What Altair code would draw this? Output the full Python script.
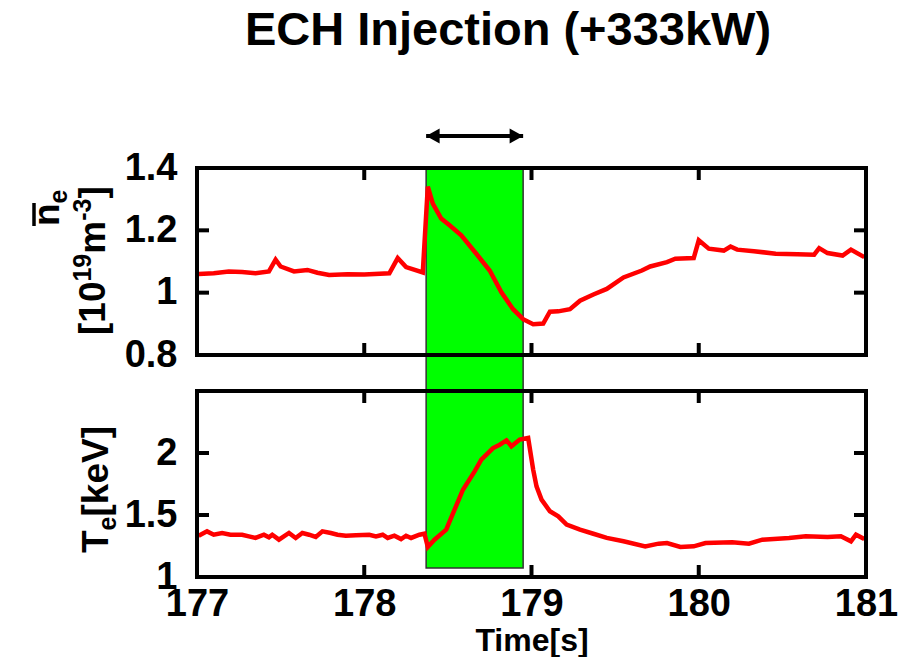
import altair as alt
import pandas as pd

FONT = "Liberation Sans"

# ---------------- data ----------------
time_ne = [177.01, 177.10, 177.19, 177.27, 177.35, 177.43, 177.47, 177.50, 177.58, 177.66,
           177.72, 177.79, 177.90, 178.00, 178.15, 178.20, 178.25, 178.35, 178.38, 178.41,
           178.46, 178.51, 178.58, 178.67, 178.75, 178.82, 178.89, 178.95, 179.01, 179.07,
           179.11, 179.16, 179.23, 179.29, 179.37, 179.45, 179.55, 179.66, 179.71, 179.81,
           179.86, 179.97, 180.00, 180.06, 180.15, 180.19, 180.23, 180.33, 180.46, 180.59,
           180.69, 180.72, 180.77, 180.86, 180.91, 180.99]
ne = [1.060, 1.062, 1.068, 1.066, 1.062, 1.068, 1.106, 1.084, 1.068, 1.073,
      1.064, 1.057, 1.059, 1.058, 1.062, 1.111, 1.082, 1.065, 1.340, 1.286,
      1.238, 1.216, 1.184, 1.125, 1.071, 1.001, 0.947, 0.915, 0.899, 0.901,
      0.939, 0.940, 0.947, 0.974, 0.994, 1.012, 1.049, 1.071, 1.084, 1.098,
      1.109, 1.111, 1.168, 1.141, 1.135, 1.148, 1.138, 1.133, 1.125, 1.123,
      1.122, 1.143, 1.127, 1.119, 1.138, 1.114]

time_te = [177.01, 177.06, 177.10, 177.15, 177.20, 177.27, 177.31, 177.35, 177.40, 177.43,
           177.45, 177.49, 177.55, 177.59, 177.63, 177.67, 177.71, 177.75, 177.80, 177.84,
           177.89, 177.95, 178.03, 178.07, 178.11, 178.14, 178.18, 178.22, 178.25, 178.28,
           178.33, 178.36, 178.38, 178.42, 178.49, 178.54, 178.59, 178.66, 178.70, 178.77,
           178.81, 178.85, 178.88, 178.93, 178.98, 179.01, 179.03, 179.06, 179.11, 179.16,
           179.21, 179.29, 179.37, 179.45, 179.55, 179.68, 179.76, 179.81, 179.89, 179.97,
           180.04, 180.20, 180.30, 180.38, 180.54, 180.64, 180.77, 180.85, 180.91, 180.94,
           180.99]
te = [1.333, 1.368, 1.341, 1.355, 1.341, 1.341, 1.328, 1.315, 1.341, 1.320,
      1.341, 1.301, 1.355, 1.315, 1.355, 1.341, 1.323, 1.368, 1.355, 1.341,
      1.333, 1.336, 1.341, 1.328, 1.341, 1.315, 1.333, 1.306, 1.333, 1.315,
      1.341, 1.349, 1.242, 1.301, 1.382, 1.543, 1.704, 1.852, 1.946, 2.040,
      2.067, 2.102, 2.054, 2.108, 2.121, 1.866, 1.731, 1.624, 1.530, 1.489,
      1.422, 1.382, 1.349, 1.315, 1.288, 1.247, 1.269, 1.274, 1.242, 1.247,
      1.274, 1.280, 1.269, 1.301, 1.315, 1.328, 1.323, 1.328, 1.288, 1.341,
      1.306]

ech_start = [178.37]
ech_end = [178.95]
ech_te_bottom = [1.073]

x_ticks = [177, 178, 179, 180, 181]
ne_ticks = [0.8, 1.0, 1.2, 1.4]
te_ticks = [1.0, 1.5, 2.0]

title_text = "ECH Injection (+333kW)"
x_title = "Time[s]"

# ---------------- layout ----------------
W = 669
H_TOP = 187
H_BOT = 186
GAP = 36
BOT_Y0 = H_TOP + GAP
H = BOT_Y0 + H_BOT
TICK = 12
FRAME_W = 4

df_ne = pd.DataFrame({"t": time_ne, "v": ne})
df_te = pd.DataFrame({"t": time_te, "v": te})
df_band = pd.DataFrame({"start": ech_start, "end": ech_end, "bottom": ech_te_bottom})
df_xt = pd.DataFrame({"t": x_ticks})
df_net = pd.DataFrame({"v": ne_ticks})
df_tet = pd.DataFrame({"v": te_ticks})
one = pd.DataFrame({"k": [0]})

xscale = alt.Scale(domain=[177, 181], nice=False, zero=False)
ne_scale = alt.Scale(domain=[0.8, 1.4], range=[H_TOP, 0], nice=False, zero=False)
te_scale = alt.Scale(domain=[1.0, 2.5], range=[H, BOT_Y0], nice=False, zero=False)

x_axis = alt.Axis(values=x_ticks, format="d", ticks=False, tickSize=0, domain=False,
                  grid=False, labelPadding=8, labelFontSize=38, labelFlush=False,
                  title=x_title, titleFontSize=32, titleY=73, titleBaseline="alphabetic")


def X(field):
    return alt.X(field, type="quantitative", scale=xscale, axis=x_axis)


AW = {'[': 333, ']': 333, 'm': 889, '-': 333, 'T': 611, 'e': 556, 'k': 556,
      'V': 667, 'n': 611}
for d in "0123456789":
    AW[d] = 556


def tw(s, size):
    return sum(AW.get(c, 556) for c in s) * size / 1000.0


def rotated_label(pieces, x0, y0):
    layers = []
    off = 0.0
    for txt, size, dy in pieces:
        layers.append(
            alt.Chart(one).mark_text(
                text=txt, angle=270, align="left", baseline="alphabetic",
                dx=off, dy=dy, fontSize=size, font=FONT, fontWeight="bold",
                color="black"
            ).encode(x=alt.value(x0), y=alt.value(y0))
        )
        off += tw(txt, size)
    return layers


def panel_ticks_and_frame(y0, h, df_yt, yscale):
    layers = []
    layers.append(alt.Chart(df_yt).mark_rule(color="black", strokeWidth=FRAME_W).encode(
        y=alt.Y("v:Q", scale=yscale, axis=None), x=alt.value(0), x2=alt.value(TICK)))
    layers.append(alt.Chart(df_yt).mark_rule(color="black", strokeWidth=FRAME_W).encode(
        y=alt.Y("v:Q", scale=yscale, axis=None), x=alt.value(W - TICK), x2=alt.value(W)))
    layers.append(alt.Chart(df_xt).mark_rule(color="black", strokeWidth=FRAME_W).encode(
        x=X("t"), y=alt.value(y0), y2=alt.value(y0 + TICK)))
    layers.append(alt.Chart(df_xt).mark_rule(color="black", strokeWidth=FRAME_W).encode(
        x=X("t"), y=alt.value(y0 + h - TICK), y2=alt.value(y0 + h)))
    layers.append(alt.Chart(one).mark_rect(filled=False, stroke="black",
                                           strokeWidth=FRAME_W).encode(
        x=alt.value(0), x2=alt.value(W), y=alt.value(y0), y2=alt.value(y0 + h)))
    return layers


# ---------------- ECH band (spans both panels) ----------------
band = alt.Chart(df_band).mark_rect(color="#00ff00", stroke="#333333",
                                    strokeWidth=1.5).encode(
    x=X("start"), x2="end",
    y=alt.Y("bottom:Q", scale=te_scale, axis=None), y2=alt.value(0))

# ---------------- top panel ----------------
ne_axis = alt.Axis(values=ne_ticks, format="~g", ticks=False, tickSize=0, domain=False,
                   grid=False, labelPadding=20, title=None, labelFontSize=38, orient="left")
line_ne = alt.Chart(df_ne).mark_line(color="#ff0000", strokeWidth=4.5).encode(
    x=X("t"), y=alt.Y("v:Q", scale=ne_scale, axis=ne_axis))

arrow_shaft = alt.Chart(df_band).mark_rule(color="black", strokeWidth=4).encode(
    x=X("start"), x2="end", y=alt.value(-32))
arrow_l = alt.Chart(df_band).mark_point(shape="M0,0L1.8,-1L1.8,1Z", size=225, filled=True,
                                        color="black", opacity=1, strokeWidth=0).encode(
    x=X("start"), y=alt.value(-32))
arrow_r = alt.Chart(df_band).mark_point(shape="M0,0L-1.8,-1L-1.8,1Z", size=225, filled=True,
                                        color="black", opacity=1, strokeWidth=0).encode(
    x=X("end"), y=alt.value(-32))

title_mark = alt.Chart(one).mark_text(text=title_text, fontSize=47, font=FONT,
                                      fontWeight="bold", align="center",
                                      baseline="alphabetic", color="black").encode(
    x=alt.value(311), y=alt.value(-123))

ne_label = rotated_label([("[", 37, 0), ("10", 37, 0), ("19", 25, -14),
                          ("m", 37, 0), ("-3", 25, -14), ("]", 37, 0)], -92, 167)
n_label = rotated_label([("n", 37, 0), ("e", 25, 8)], -138, 58)
overline = alt.Chart(one).mark_rule(color="black", strokeWidth=3.5).encode(
    x=alt.value(-163), x2=alt.value(-163), y=alt.value(58), y2=alt.value(35))

# ---------------- bottom panel ----------------
te_axis = alt.Axis(values=te_ticks, format="~g", ticks=False, tickSize=0, domain=False,
                   grid=False, labelPadding=20, title=None, labelFontSize=38, orient="left")
line_te = alt.Chart(df_te).mark_line(color="#ff0000", strokeWidth=4.5).encode(
    x=X("t"), y=alt.Y("v:Q", scale=te_scale, axis=te_axis))

te_label = rotated_label([("T", 37, 0), ("e", 25, 8), ("[keV]", 37, 0)], -89, BOT_Y0 + 162)

chart = alt.layer(
    band, line_ne, line_te,
    *panel_ticks_and_frame(0, H_TOP, df_net, ne_scale),
    *panel_ticks_and_frame(BOT_Y0, H_BOT, df_tet, te_scale),
    arrow_shaft, arrow_l, arrow_r, title_mark,
    *ne_label, *n_label, overline, *te_label,
).resolve_scale(y="independent").resolve_axis(y="independent").properties(
    width=W, height=H,
    autosize=alt.AutoSizeParams(type="none"),
    padding={"left": 197, "top": 168, "right": 33, "bottom": 80},
    background="white",
).configure_view(stroke="transparent").configure_axis(
    labelFont=FONT, labelFontWeight="bold", labelColor="black",
    titleFont=FONT, titleFontWeight="bold", titleColor="black",
)

chart.save("out.html", embed_options={"renderer": "svg", "actions": False})
